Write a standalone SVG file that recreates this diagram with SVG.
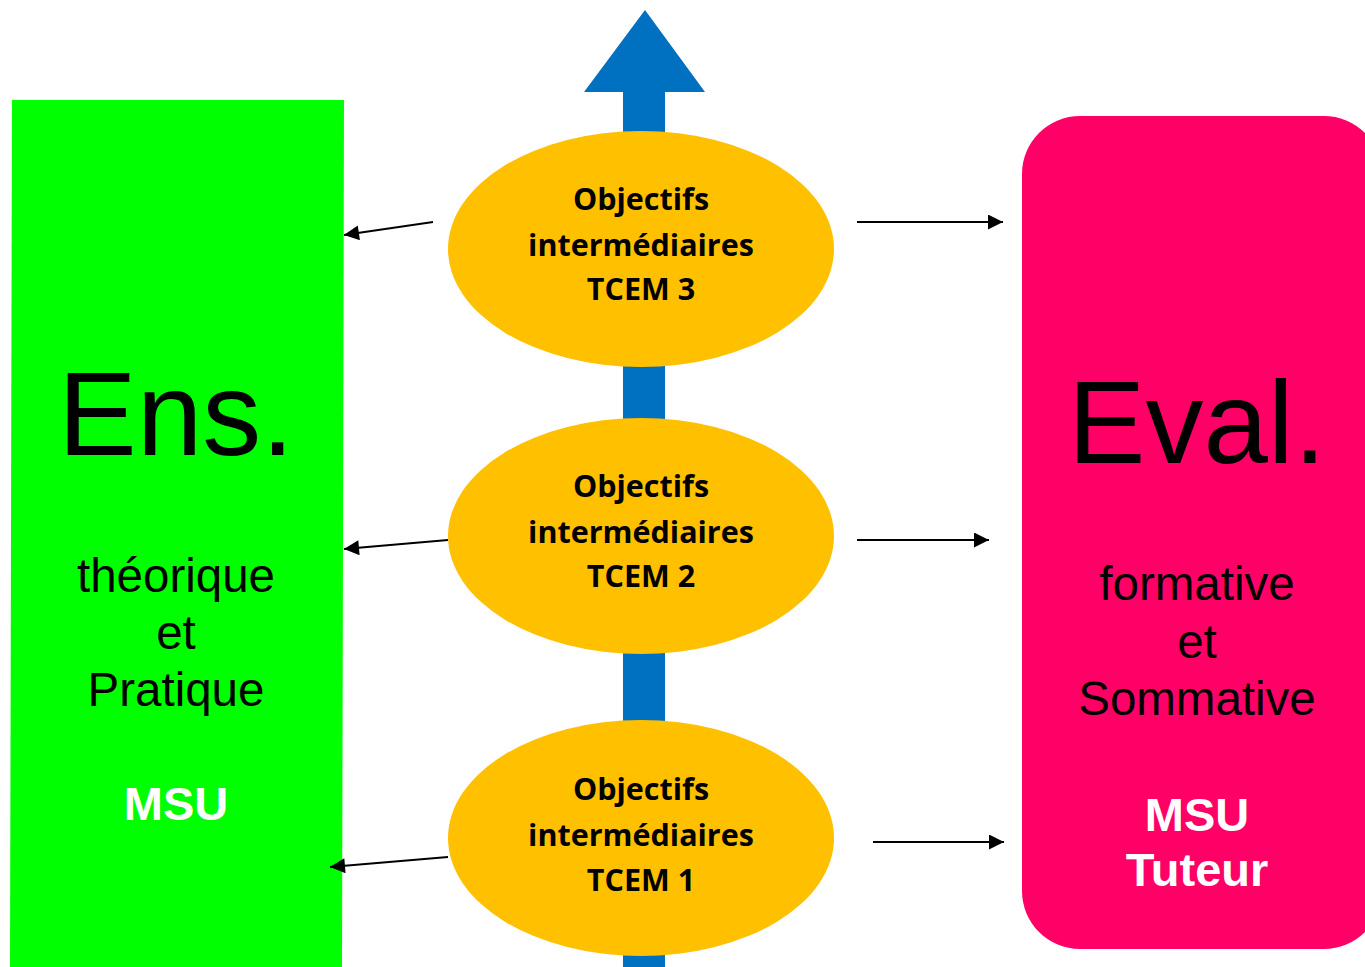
<svg xmlns="http://www.w3.org/2000/svg" width="1365" height="967" viewBox="0 0 1365 967">
<defs>
<style>
.obj{fill:#FFC000}
.ot{font-family:"Open Sans","Noto Sans",sans-serif;font-weight:bold;font-size:30.5px;fill:#000;text-anchor:middle}
.big{font-family:"Liberation Sans",Arial,sans-serif;fill:#000;text-anchor:middle}
.mid{font-family:"Liberation Sans",Arial,sans-serif;font-size:47.5px;fill:#000;text-anchor:middle}
.wb{font-family:"Liberation Sans",Arial,sans-serif;font-size:47px;font-weight:bold;fill:#fff;text-anchor:middle}
.con{stroke:#000;stroke-width:2;fill:none;marker-end:url(#ah)}
</style>
<marker id="ah" viewBox="0 0 10 10" refX="10" refY="5" markerWidth="8.5" markerHeight="7.5" markerUnits="strokeWidth" orient="auto">
<path d="M0,0 L10,5 L0,10 z" fill="#000"/>
</marker>
</defs>
<rect width="1365" height="967" fill="#fff"/>
<g id="ens">
<polygon points="12,100 344,100 342,967 10,967" fill="#00FF00"/>
<text class="big" x="176" y="455" font-size="118">Ens.</text>
<text class="mid" x="176" y="592">théorique</text>
<text class="mid" x="176" y="649">et</text>
<text class="mid" x="176" y="706">Pratique</text>
<text class="wb" x="176" y="820">MSU</text>
</g>
<g id="eval">
<rect x="1022" y="116" width="360" height="833" rx="58" ry="58" fill="#FF0066"/>
<text class="big" x="1197" y="463" font-size="116">Eval.</text>
<text class="mid" x="1197" y="600">formative</text>
<text class="mid" x="1197" y="658">et</text>
<text class="mid" x="1197" y="715">Sommative</text>
<text class="wb" x="1197" y="831">MSU</text>
<text class="wb" x="1197" y="886">Tuteur</text>
</g>
<g id="axis">
<polygon points="645,10 705,92 665,92 665,967 623,967 623,92 584,92" fill="#0070C0"/>
</g>
<g id="tcem3">
<ellipse class="obj" cx="641" cy="249" rx="193" ry="118"/>
<text class="ot" x="641" y="210">Objectifs</text>
<text class="ot" x="641" y="256">intermédiaires</text>
<text class="ot" x="641" y="300">TCEM 3</text>
</g>
<g id="tcem2">
<ellipse class="obj" cx="641" cy="536" rx="193" ry="118"/>
<text class="ot" x="641" y="497">Objectifs</text>
<text class="ot" x="641" y="543">intermédiaires</text>
<text class="ot" x="641" y="587">TCEM 2</text>
</g>
<g id="tcem1">
<ellipse class="obj" cx="641" cy="838" rx="193" ry="118"/>
<text class="ot" x="641" y="800">Objectifs</text>
<text class="ot" x="641" y="846">intermédiaires</text>
<text class="ot" x="641" y="891">TCEM 1</text>
</g>
<g id="connectors">
<line class="con" x1="433" y1="222" x2="344" y2="235"/>
<line class="con" x1="448" y1="540" x2="344" y2="549"/>
<line class="con" x1="448" y1="857" x2="330" y2="867"/>
<line class="con" x1="857" y1="222" x2="1003" y2="222"/>
<line class="con" x1="857" y1="540" x2="989" y2="540"/>
<line class="con" x1="873" y1="842" x2="1004" y2="842"/>
</g>
</svg>
